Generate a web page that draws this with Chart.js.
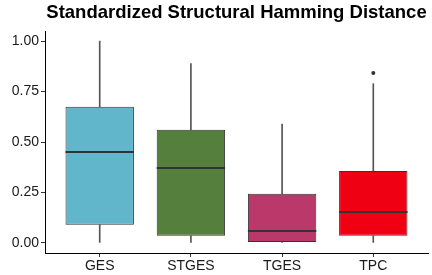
<!DOCTYPE html>
<html>
<head>
<meta charset="utf-8">
<script src="https://cdn.jsdelivr.net/npm/chart.js@4"></script>
<style>
  html, body { margin: 0; padding: 0; background: #fff; }
  #wrap { width: 432px; height: 275px; }
</style>
</head>
<body>
<div id="wrap"><canvas id="hammingChart" width="432" height="275"></canvas></div>
<script>
// Boxplot summaries
const methods = ['GES', 'STGES', 'TGES', 'TPC'];
const whiskerLow = [0.00, 0.00, 0.00, 0.00];
const q1 = [0.09, 0.035, 0.005, 0.035];
const medians = [0.45, 0.371, 0.061, 0.153];
const q3 = [0.675, 0.561, 0.244, 0.356];
const whiskerHigh = [1.00, 0.888, 0.589, 0.789];
const outliers = [{ x: 4, y: 0.842 }];
const yTicks = [0, 0.25, 0.5, 0.75, 1.0];
const boxColors = ['#61B6CC', '#557F3D', '#BB386B', '#F00013'];

const pos = methods.map((m, i) => i + 1);
const FONT = "'Liberation Sans', Arial, sans-serif";

// draw median lines on top of the boxes
const medianPlugin = {
    id: 'medianLines',
    afterDatasetsDraw(chart) {
        const meta = chart.getDatasetMeta(2);
        const y = chart.scales.y;
        const c = chart.ctx;
        c.save();
        c.strokeStyle = '#333333';
        c.lineWidth = 2;
        meta.data.forEach((bar, i) => {
            const py = Math.round(y.getPixelForValue(medians[i]));
            c.beginPath();
            c.moveTo(bar.x - bar.width / 2, py);
            c.lineTo(bar.x + bar.width / 2, py);
            c.stroke();
        });
        c.restore();
    }
};

const ctx = document.getElementById('hammingChart');
new Chart(ctx, {
    type: 'bar',
    data: {
        datasets: [
            {
                // lower whiskers
                data: pos.map((x, i) => ({ x: x, y: [whiskerLow[i], q1[i]] })),
                backgroundColor: '#555555',
                barThickness: 1,
                grouped: false,
                order: 3
            },
            {
                // upper whiskers
                data: pos.map((x, i) => ({ x: x, y: [q3[i], whiskerHigh[i]] })),
                backgroundColor: '#555555',
                barThickness: 1,
                grouped: false,
                order: 3
            },
            {
                // boxes
                data: pos.map((x, i) => ({ x: x, y: [q1[i], q3[i]] })),
                backgroundColor: boxColors,
                borderColor: '#333333',
                borderWidth: 1,
                borderSkipped: false,
                barPercentage: 0.75,
                categoryPercentage: 1,
                grouped: false,
                order: 2
            },
            {
                type: 'scatter',
                data: outliers,
                pointRadius: 2,
                pointBackgroundColor: '#333333',
                pointBorderWidth: 0,
                order: 1
            }
        ]
    },
    options: {
        responsive: false,
        animation: false,
        layout: { padding: { left: 0, right: 2, top: 0, bottom: 0 } },
        plugins: {
            legend: { display: false },
            tooltip: { enabled: false },
            title: {
                display: true,
                text: 'Standardized Structural Hamming Distance',
                fullSize: false,
                color: '#000',
                font: { family: FONT, size: 18.5, weight: 'bold' },
                padding: { top: 2, bottom: 6.8 }
            }
        },
        scales: {
            x: {
                type: 'linear',
                min: 0.4,
                max: 4.6,
                offset: false,
                afterBuildTicks: s => { s.ticks = pos.map(v => ({ value: v })); },
                afterFit: s => { s.height = 22; },
                ticks: {
                    callback: v => methods[v - 1],
                    color: '#1a1a1a',
                    font: { family: FONT, size: 14 },
                    padding: 1,
                    maxRotation: 0
                },
                grid: { drawOnChartArea: false, offset: false, tickLength: 4, color: '#333333' },
                border: { color: '#000000', width: 1 }
            },
            y: {
                min: -0.05,
                max: 1.05,
                afterBuildTicks: s => { s.ticks = yTicks.map(v => ({ value: v })); },
                afterFit: s => { s.width = 45; },
                ticks: {
                    callback: v => v.toFixed(2),
                    color: '#1a1a1a',
                    font: { family: FONT, size: 14 },
                    padding: 2
                },
                grid: { drawOnChartArea: false, tickLength: 4, color: '#333333' },
                border: { color: '#000000', width: 1 }
            }
        }
    },
    plugins: [medianPlugin]
});
</script>
</body>
</html>
